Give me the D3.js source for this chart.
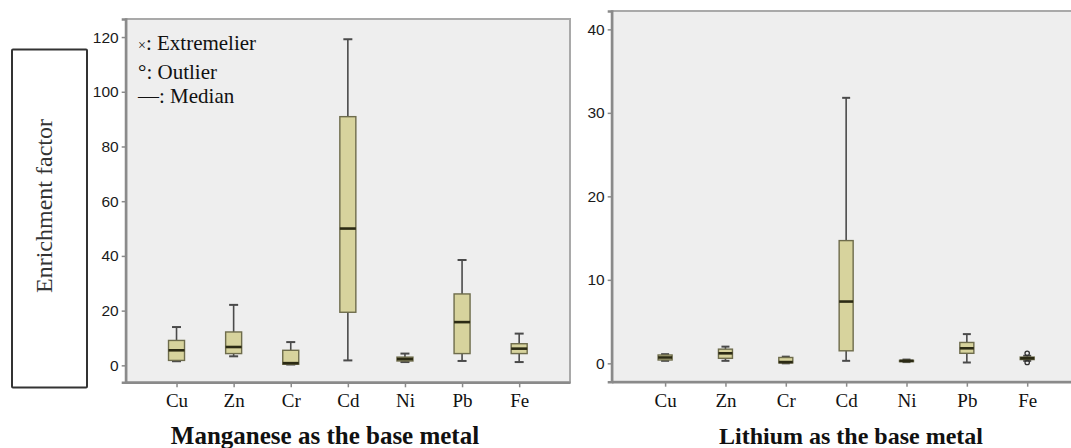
<!DOCTYPE html>
<html><head><meta charset="utf-8">
<script src="https://cdn.jsdelivr.net/npm/d3@7/dist/d3.min.js"></script>
<style>body{margin:0;background:#fff}svg{display:block}</style>
</head><body>
<svg id="chart" width="1071" height="448"></svg>
<script>
const categories = ["Cu","Zn","Cr","Cd","Ni","Pb","Fe"];

// Manganese as the base metal
const mnLow    = [1.5, 3.3, 0.3, 1.8, 1.2, 1.6, 1.2];
const mnQ1     = [1.8, 4.3, 0.4, 19.4, 1.6, 4.3, 4.3];
const mnMedian = [5.5, 6.7, 0.8, 50.0, 2.3, 15.8, 6.1];
const mnQ3     = [9.1, 12.2, 5.5, 90.9, 3.0, 26.1, 7.9];
const mnHigh   = [14.0, 22.1, 8.5, 119.2, 4.3, 38.5, 11.6];
const mnTicks  = [0, 20, 40, 60, 80, 100, 120];

// Lithium as the base metal
const liLow    = [0.3, 0.3, 0.0, 0.3, 0.15, 0.1, 0.3];
const liQ1     = [0.4, 0.6, 0.05, 1.5, 0.2, 1.2, 0.45];
const liMedian = [0.7, 1.2, 0.15, 7.4, 0.3, 1.8, 0.6];
const liQ3     = [1.0, 1.7, 0.7, 14.7, 0.35, 2.5, 0.75];
const liHigh   = [1.1, 2.0, 0.8, 31.8, 0.45, 3.5, 0.9];
const liOutliers = [[], [], [], [], [], [], [0.1, 1.2]];
const liTicks  = [0, 10, 20, 30, 40];

const legendSymbols = ["\u00d7", "\u00b0", "\u2014"];
const legendLabels = [": Extremelier", ": Outlier", ": Median"];

const svg = d3.select("#chart");

function panel(opt) {
  const g = svg.append("g");
  const x = d3.scalePoint().domain(categories).range([opt.x0, opt.x1]).padding(opt.pad);
  const y = d3.scaleLinear().domain(opt.domain).range([opt.y1, opt.y0]);
  g.append("rect").attr("x", opt.x0).attr("y", opt.y0)
    .attr("width", opt.x1 - opt.x0).attr("height", opt.y1 - opt.y0)
    .attr("fill", "#eeeeee").attr("stroke", "#a9a9a9").attr("stroke-width", 2);

  const rows = categories.map((c, i) => ({c, lo: opt.lo[i], q1: opt.q1[i], md: opt.md[i], q3: opt.q3[i], hi: opt.hi[i], out: opt.out ? opt.out[i] : []}));
  const bw = opt.bw, cw = opt.cw;
  const b = g.append("g").selectAll("g").data(rows).join("g");
  b.append("line").attr("x1", d => x(d.c)).attr("x2", d => x(d.c))
    .attr("y1", d => y(d.hi)).attr("y2", d => y(d.lo))
    .attr("stroke", "#4a4a4a").attr("stroke-width", 1.6);
  b.append("line").attr("x1", d => x(d.c) - cw/2).attr("x2", d => x(d.c) + cw/2)
    .attr("y1", d => y(d.hi)).attr("y2", d => y(d.hi))
    .attr("stroke", "#4a4a4a").attr("stroke-width", 2);
  b.append("line").attr("x1", d => x(d.c) - cw/2).attr("x2", d => x(d.c) + cw/2)
    .attr("y1", d => y(d.lo)).attr("y2", d => y(d.lo))
    .attr("stroke", "#4a4a4a").attr("stroke-width", 2);
  b.append("rect").attr("x", d => x(d.c) - bw/2).attr("width", bw)
    .attr("y", d => y(d.q3)).attr("height", d => Math.max(1, y(d.q1) - y(d.q3)))
    .attr("fill", "#d7d39d").attr("stroke", "#6e6c4c").attr("stroke-width", 1.4);
  b.append("line").attr("x1", d => x(d.c) - bw/2).attr("x2", d => x(d.c) + bw/2)
    .attr("y1", d => y(d.md)).attr("y2", d => y(d.md))
    .attr("stroke", "#2b2a14").attr("stroke-width", 2.6);
  b.selectAll("circle").data(d => d.out.map(v => ({c: d.c, v}))).join("circle")
    .attr("cx", d => x(d.c)).attr("cy", d => y(d.v)).attr("r", 2.2)
    .attr("fill", "none").attr("stroke", "#333").attr("stroke-width", 1.3);

  const ya = g.append("g").attr("transform", `translate(${opt.x0},0)`)
    .call(d3.axisLeft(y).tickValues(opt.ticks).tickSize(4).tickPadding(3).tickFormat(d3.format("d")));
  ya.select(".domain").attr("stroke", "#8a8a8a").attr("stroke-width", 2.5);
  ya.selectAll(".tick line").attr("stroke", "#8a8a8a").attr("stroke-width", 1.5);
  ya.selectAll(".tick text").attr("font-family", "'Liberation Sans', Arial, sans-serif")
    .attr("font-size", 15.5).attr("fill", "#1a1a1a");
  const xa = g.append("g").attr("transform", `translate(0,${opt.y1})`)
    .call(d3.axisBottom(x).tickSize(5).tickPadding(6.5).tickSizeOuter(0));
  xa.select(".domain").attr("stroke", "#8a8a8a").attr("stroke-width", 2.5);
  xa.selectAll(".tick line").attr("stroke", "#8a8a8a").attr("stroke-width", 1.5);
  xa.selectAll(".tick text").attr("font-family", "'Liberation Serif', 'Times New Roman', serif")
    .attr("font-size", 19).attr("fill", "#111");
  g.append("text").attr("x", opt.tx).attr("y", 444).attr("text-anchor", "middle")
    .attr("font-family", "'Liberation Serif', 'Times New Roman', serif")
    .attr("font-weight", "bold").attr("font-size", opt.tsize).attr("fill", "#111")
    .text(opt.title);
  return g;
}

panel({x0: 125.7, x1: 570, y0: 19, y1: 382.3, pad: 0.89, domain: [-6.2, 126.6],
  lo: mnLow, q1: mnQ1, md: mnMedian, q3: mnQ3, hi: mnHigh, ticks: mnTicks,
  bw: 16, cw: 9, tx: 325, tsize: 25, title: "Manganese as the base metal"});

panel({x0: 611.7, x1: 1080.6, y0: 11, y1: 381.7, pad: 0.885, domain: [-2.2, 42.2],
  lo: liLow, q1: liQ1, md: liMedian, q3: liQ3, hi: liHigh, out: liOutliers, ticks: liTicks,
  bw: 14, cw: 8, tx: 851, tsize: 24, title: "Lithium as the base metal"});

// legend
const leg = svg.append("g").selectAll("text").data(legendLabels).join("text")
  .attr("x", 138).attr("y", (d, i) => [50, 79, 103][i])
  .attr("font-family", "'Liberation Serif', 'Times New Roman', serif")
  .attr("font-size", 21).attr("fill", "#111");
leg.append("tspan").attr("font-size", (d, i) => i === 0 ? 14 : 21).text((d, i) => legendSymbols[i]);
leg.append("tspan").text(d => d);

// y label box
svg.append("rect").attr("x", 12).attr("y", 49.5).attr("width", 75).attr("height", 338)
  .attr("fill", "#fff").attr("stroke", "#333").attr("stroke-width", 2).attr("rx", 1);
svg.append("text").attr("transform", "translate(52,206) rotate(-90)")
  .attr("text-anchor", "middle")
  .attr("font-family", "'Liberation Serif', 'Times New Roman', serif").attr("font-size", 24).attr("fill", "#333")
  .text("Enrichment factor");
</script>
</body></html>
